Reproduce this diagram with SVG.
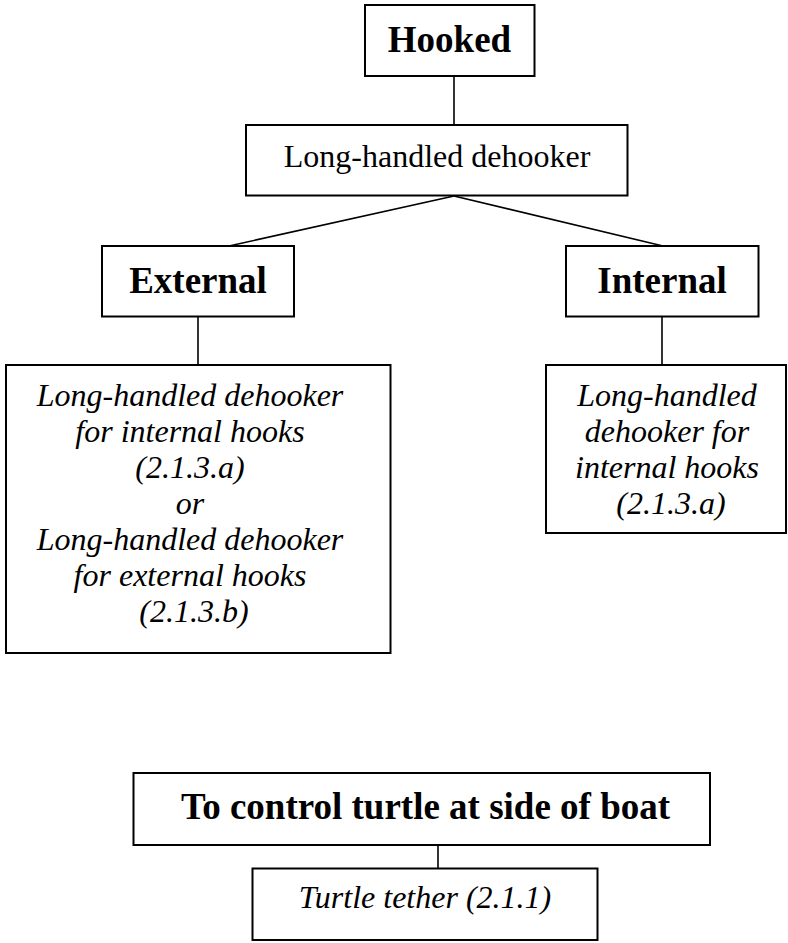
<svg xmlns="http://www.w3.org/2000/svg" width="788" height="943" viewBox="0 0 788 943">
<style>
.box{fill:#fff;stroke:#000;stroke-width:2}
.con{stroke:#000;stroke-width:1.6;fill:none}
text{font-family:"Liberation Serif","Times New Roman",serif;fill:#000;text-anchor:middle}
.b{font-weight:bold;font-size:37px}
.r{font-size:32px}
.i{font-style:italic;font-size:32px}
</style>
<rect width="788" height="943" fill="#fff"/>
<g id="connectors">
<line class="con" x1="454" y1="76" x2="454" y2="125"/>
<line class="con" x1="454" y1="196" x2="229" y2="246"/>
<line class="con" x1="454" y1="196" x2="663" y2="246"/>
<line class="con" x1="198" y1="317" x2="198" y2="365"/>
<line class="con" x1="662" y1="317" x2="662" y2="365"/>
<line class="con" x1="438" y1="845" x2="438" y2="868.5"/>
</g>
<g id="hooked">
<rect class="box" x="365" y="5" width="169.5" height="71"/>
<text class="b" x="449.5" y="52">Hooked</text>
</g>
<g id="dehooker">
<rect class="box" x="246" y="125" width="381.5" height="70.5"/>
<text class="r" x="437" y="167">Long-handled dehooker</text>
</g>
<g id="external">
<rect class="box" x="102" y="246" width="192" height="70.5"/>
<text class="b" x="198" y="293">External</text>
</g>
<g id="internal">
<rect class="box" x="566" y="246" width="192.5" height="70.5"/>
<text class="b" x="662" y="293">Internal</text>
</g>
<g id="external-detail">
<rect class="box" x="6" y="365" width="384.5" height="288"/>
<text class="i" x="194">
<tspan x="194" y="406">Long-handled dehooker</tspan>
<tspan x="194" y="442">for internal hooks</tspan>
<tspan x="194" y="478">(2.1.3.a)</tspan>
<tspan x="194" y="514">or</tspan>
<tspan x="194" y="550">Long-handled dehooker</tspan>
<tspan x="194" y="586">for external hooks</tspan>
<tspan x="194" y="622">(2.1.3.b)</tspan>
</text>
</g>
<g id="internal-detail">
<rect class="box" x="546" y="365" width="240" height="168"/>
<text class="i" x="671">
<tspan x="671" y="406">Long-handled</tspan>
<tspan x="671" y="442">dehooker for</tspan>
<tspan x="671" y="478">internal hooks</tspan>
<tspan x="671" y="514">(2.1.3.a)</tspan>
</text>
</g>
<g id="control">
<rect class="box" x="133.5" y="773" width="576.5" height="72"/>
<text class="b" x="425.5" y="819">To control turtle at side of boat</text>
</g>
<g id="tether">
<rect class="box" x="252.5" y="868.5" width="345" height="71.5"/>
<text class="i" x="425" y="908">Turtle tether (2.1.1)</text>
</g>
</svg>
